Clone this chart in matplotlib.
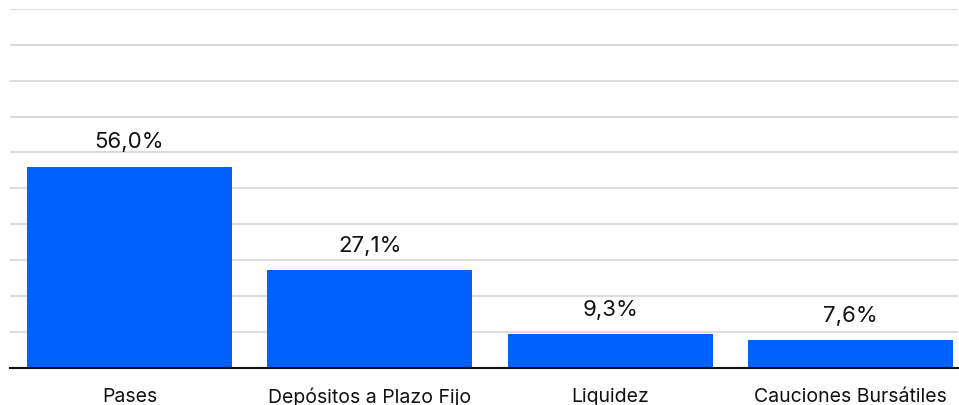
import matplotlib
matplotlib.use("Agg")
import matplotlib.pyplot as plt

categories = ["Pases", "Depósitos a Plazo Fijo", "Liquidez", "Cauciones Bursátiles"]
values = [56.0, 27.1, 9.3, 7.6]
labels = ["56,0%", "27,1%", "9,3%", "7,6%"]

plt.rcParams['font.family'] = ['Inter', 'DejaVu Sans']

fig = plt.figure(figsize=(9.59, 4.06), dpi=100)
ax = fig.add_axes([10/959, (406-368.5)/406, 948/959, (368.5-10)/406])

x = list(range(len(categories)))
bars = ax.bar(x, values, width=0.853, color="#0061FE", zorder=3)

for xi, v, lab in zip(x, values, labels):
    ax.annotate(lab, (xi, v), xytext=(0, 11), textcoords="offset points",
                ha="center", va="bottom", fontsize=16, color="#111111")

ax.set_ylim(0, 100)
ax.set_xlim(-0.497, 3.447)
ax.set_yticks(range(0, 101, 10))
ax.yaxis.grid(True, color="#dcdcdc", linewidth=1.5, zorder=0)
ax.tick_params(axis="y", left=False, labelleft=False)
ax.set_xticks(x)
ax.set_xticklabels(categories, fontsize=14, color="#111111")
ax.tick_params(axis="x", length=0, pad=14)
for s in ["top", "right", "left"]:
    ax.spines[s].set_visible(False)
ax.spines["bottom"].set_color("#111111")
ax.spines["bottom"].set_linewidth(1.5)
ax.spines["bottom"].set_zorder(4)

fig.savefig("out.png", dpi=100)
